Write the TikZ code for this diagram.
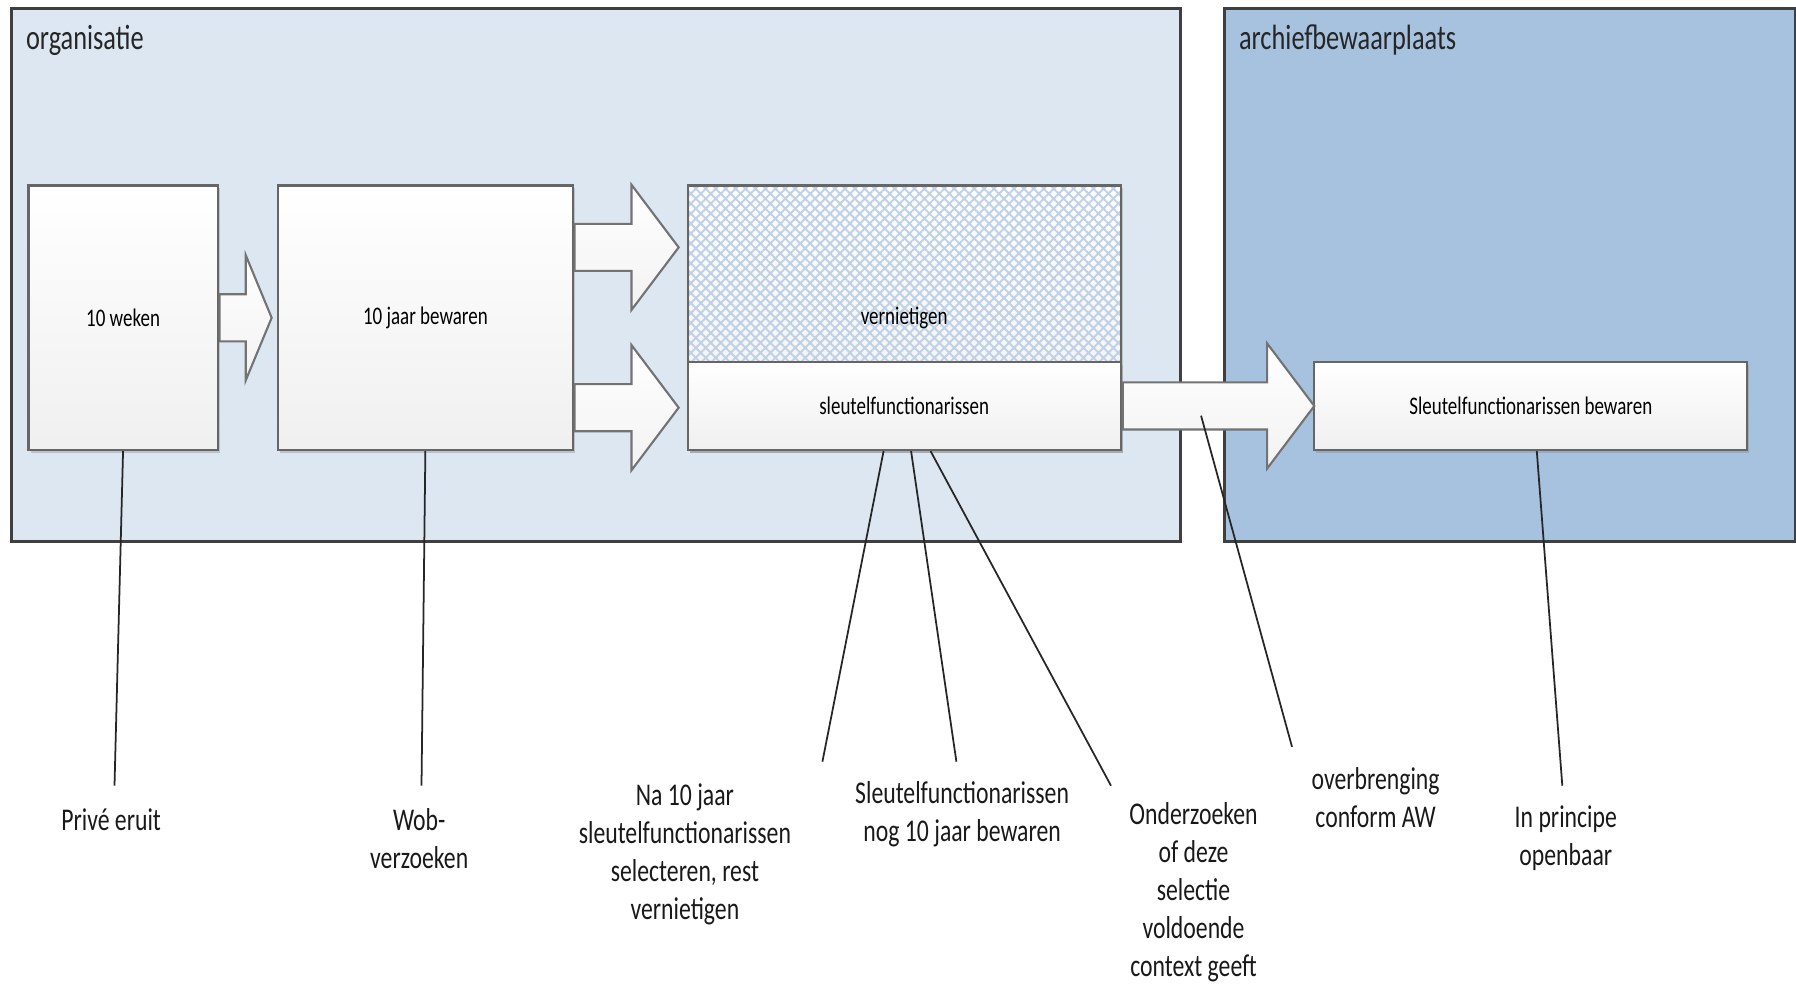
\documentclass[tikz,border=0pt]{standalone}
\usepackage{fontspec}
\setmainfont[FakeStretch=0.75]{Carlito}
\usetikzlibrary{positioning, shapes.arrows, shadows, patterns.meta}
\definecolor{orgblauw}{HTML}{DCE7F2}
\definecolor{archiefblauw}{HTML}{A7C2DE}
\definecolor{rand}{HTML}{3F3F3F}
\definecolor{arceer}{HTML}{BFD1E6}

\begin{document}
\begin{tikzpicture}[>=latex]
		\tikzstyle{domein}=[rectangle, draw=rand, line width=0.9pt, anchor=north west, inner sep=0pt]
		\tikzstyle{kop}=[anchor=west, font=\fontsize{10}{12}\selectfont, text=black!85, inner sep=0pt]
		\tikzstyle{box}=[rectangle, draw=black!60, line width=0.6pt, top color=white, bottom color=black!6, drop shadow={shadow xshift=0.6pt, shadow yshift=-0.8pt, opacity=0.35}, font=\fontsize{7.2}{9}\selectfont, inner sep=0pt]
		\tikzstyle{fatarrow}=[single arrow, draw=black!55, line width=0.6pt, top color=white, bottom color=black!5, inner xsep=0pt, inner ysep=0.225cm, single arrow head extend=0.39cm, single arrow tip angle=106, anchor=tail]
		\tikzstyle{connect}=[line width=0.5pt, black!85]
		\tikzstyle{note}=[align=center, font=\fontsize{9}{10.8}\selectfont, text=black!90, inner sep=0pt]
		\useasboundingbox (0,0) rectangle (17.96,-9.84);
		% organisatie en archiefbewaarplaats
		\node[domein, fill=orgblauw, minimum width=11.683cm, minimum height=5.326cm] (org) at (0.103,-0.069) {};
		\node[domein, fill=archiefblauw, minimum width=5.704cm, minimum height=5.326cm] (arch) at (12.233,-0.069) {};
		\node[kop] (orgkop) at ([shift={(0.15,-0.33)}]org.north west) {organisatie};
		\node[kop] (archkop) at ([shift={(0.15,-0.33)}]arch.north west) {archiefbewaarplaats};
		% termijnen
		\node[box, minimum width=1.89cm, minimum height=2.646cm, anchor=north west] (weken) at (0.275,-1.844) {10 weken};
		\node[box, minimum width=2.944cm, minimum height=2.646cm] (jaar) [right=0.585cm of weken] {10 jaar bewaren};
		\node[box, minimum width=4.33cm, minimum height=2.646cm, fill=white, postaction={pattern={Hatch[angle=45, distance=2pt, line width=0.55pt]}, pattern color=arceer}, postaction={draw=black!60, line width=0.6pt}] (vern) [right=1.13cm of jaar] {vernietigen};
		\node[box, minimum width=4.33cm, minimum height=0.882cm] (sleutel) [above=0cm of vern.south, anchor=south] {sleutelfunctionarissen};
		\node[box, minimum width=4.33cm, minimum height=0.882cm] (bewaren) [right=1.915cm of sleutel] {Sleutelfunctionarissen bewaren};
		\node[fatarrow, single arrow tip angle=135, minimum height=0.52cm] (a1) at (weken.east) {};
		\node[fatarrow, minimum height=1.04cm] (a2) at ([yshift=0.704cm]jaar.east) {};
		\node[fatarrow, minimum height=1.04cm] (a3) at ([yshift=-0.899cm]jaar.east) {};
		\node[fatarrow, minimum height=1.915cm] (a4) at (sleutel.east) {};
		% toelichting
		\coordinate (e1) at (1.145,-7.857);
		\coordinate (e2) at (4.215,-7.857);
		\coordinate (e3) at (8.224,-7.617);
		\coordinate (e4) at (9.564,-7.617);
		\coordinate (e5) at (11.110,-7.857);
		\coordinate (e6) at (12.920,-7.468);
		\coordinate (e7) at (15.623,-7.857);
		\node[note] (prive) at (1.111,-8.201) {Privé eruit};
		\node[note] (wob) at (4.192,-8.384) {Wob-\\verzoeken};
		\node[note] (na) at (6.849,-8.545) {Na 10 jaar\\sleutelfunctionarissen\\selecteren, rest\\vernietigen};
		\node[note] (nog) at (9.621,-8.144) {Sleutelfunctionarissen\\nog 10 jaar bewaren};
		\node[note] (onderzoek) at (11.935,-8.923) {Onderzoeken\\of deze\\selectie\\voldoende\\context geeft};
		\node[note] (aw) at (13.756,-7.972) {overbrenging\\conform AW};
		\node[note] (openbaar) at (15.658,-8.384) {In principe\\openbaar};
		\path
		(weken.south) edge [connect] (e1)
		(jaar.south) edge [connect] (e2)
		([xshift=-0.206cm]sleutel.south) edge [connect] (e3)
		([xshift=0.069cm]sleutel.south) edge [connect] (e4)
		([xshift=0.264cm]sleutel.south) edge [connect] (e5)
		([shift={(-0.086,-0.097)}]a4.center) edge [connect] (e6)
		([xshift=0.06cm]bewaren.south) edge [connect] (e7)
		;
	\end{tikzpicture}
\end{document}
